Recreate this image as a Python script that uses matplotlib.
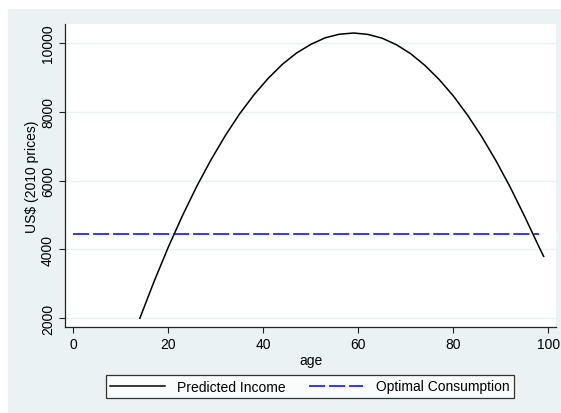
import numpy as np
import matplotlib
matplotlib.use("Agg")
import matplotlib.pyplot as plt
from matplotlib.patches import Rectangle

plt.rcParams['font.family'] = ['Liberation Sans', 'DejaVu Sans']

# predicted income by age
age = [14, 17, 20, 23, 26, 29, 32, 35, 38, 41, 44, 47, 50, 53, 56, 59,
       62, 65, 68, 71, 74, 77, 80, 83, 86, 89, 92, 95, 98, 99]
income = [2000, 3070, 4070, 4990, 5840, 6610, 7310, 7940, 8490, 8970,
          9380, 9710, 9960, 10150, 10255, 10290, 10250, 10140, 9950, 9690,
          9350, 8940, 8460, 7900, 7270, 6570, 5800, 4960, 4080, 3800]

# optimal consumption (flat)
cons_age = [0, 98]
cons_level = [4440, 4440]

xticks = [0, 20, 40, 60, 80, 100]
yticks = [2000, 4000, 6000, 8000, 10000]

bg = '#EAF2F3'
W, H = 561, 414
fig = plt.figure(figsize=(W / 100, H / 100), dpi=100, facecolor='white')
fig.patches.append(Rectangle((8 / W, 0), 1 - 8 / W, 1 - 10 / H,
                             transform=fig.transFigure, facecolor=bg,
                             edgecolor='none', zorder=-10))

ax = fig.add_axes([65 / W, 1 - 328.3 / H, (556 - 65) / W, (328.3 - 25) / H])
ax.set_facecolor('white')

ax.plot(age, income, color='black', lw=1.1, label='Predicted Income', zorder=3)
ax.plot(cons_age, cons_level, color='#0000ff', lw=1.1,
        linestyle=(0, (10.5, 2.6)), label='Optimal Consumption', zorder=3)

ax.set_xlim(-1.75, 101.6)
ax.set_ylim(1738, 10552)
ax.set_xticks(xticks)
ax.set_yticks(yticks)
ax.set_yticklabels([str(v) for v in yticks], rotation=90, va='center')
ax.grid(axis='y', color=bg, lw=1.0, zorder=0)
ax.set_axisbelow(True)

for s in ['top', 'right']:
    ax.spines[s].set_visible(False)
for s in ['left', 'bottom']:
    ax.spines[s].set_color('#222222')
    ax.spines[s].set_linewidth(0.9)

ax.tick_params(axis='both', direction='out', length=4.2, width=0.8,
               color='#222222', labelsize=10)
ax.tick_params(axis='x', pad=2.5)
ax.tick_params(axis='y', pad=3.0)

ax.set_xlabel('age', fontsize=10)
ax.set_ylabel('US$ (2010 prices)', fontsize=10)
ax.xaxis.set_label_coords(0.5, -0.085)
ax.yaxis.set_label_coords(-0.052, 0.5)

leg = fig.legend(loc='center', bbox_to_anchor=(310 / W, 1 - 387.5 / H),
                 ncol=2, fontsize=10, frameon=True, fancybox=False,
                 handlelength=3.9, handletextpad=0.9, columnspacing=1.7,
                 borderpad=0.35, borderaxespad=0)
leg.get_frame().set_edgecolor('black')
leg.get_frame().set_linewidth(0.9)
leg.get_frame().set_facecolor('white')

fig.savefig('out.png', dpi=100, facecolor=fig.get_facecolor())
